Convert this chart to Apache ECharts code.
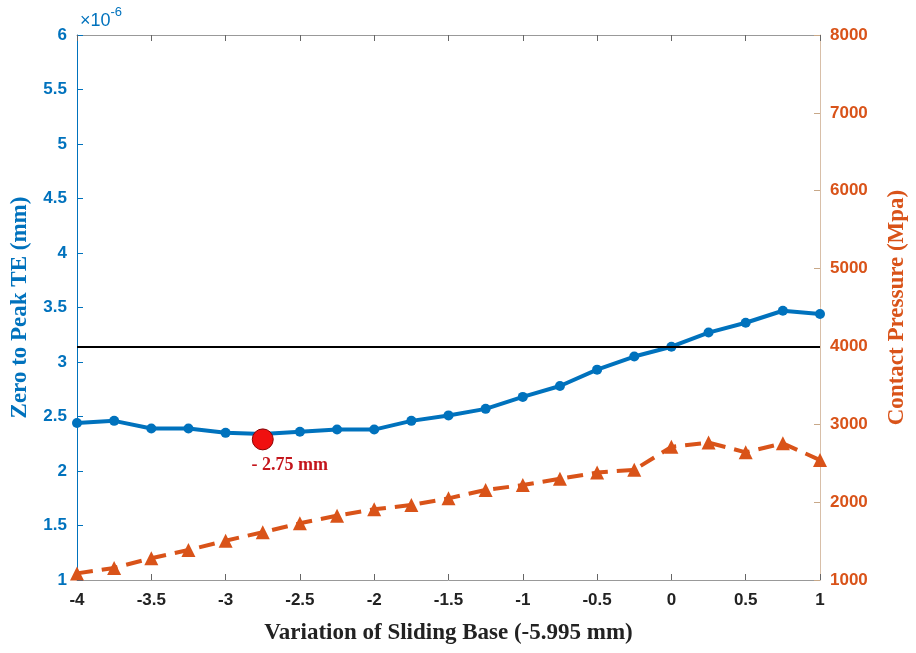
<!DOCTYPE html>
<html><head><meta charset="utf-8">
<script src="https://cdn.jsdelivr.net/npm/echarts@6/dist/echarts.min.js"></script>
<style>html,body{margin:0;padding:0;background:#fff}#c{width:916px;height:653px}</style>
</head><body><div id="c"></div>
<script>
const xValues = [-4,-3.75,-3.5,-3.25,-3,-2.75,-2.5,-2.25,-2,-1.75,-1.5,-1.25,-1,-0.75,-0.5,-0.25,0,0.25,0.5,0.75,1];
const teValues = [2.44,2.46,2.39,2.39,2.35,2.34,2.36,2.38,2.38,2.46,2.51,2.57,2.68,2.78,2.93,3.05,3.14,3.27,3.36,3.47,3.44]; // x1e-6 mm
const pressureValues = [1085,1155,1280,1385,1505,1613,1728,1826,1908,1963,2049,2156,2220,2300,2380,2415,2710,2765,2640,2755,2540];
const highlightPoint = [-2.75, 2.29];
const highlightLabel = '- 2.75 mm';
const referencePressure = 4000;

const BLUE = '#0072BD', ORANGE = '#D95319';
const chart = echarts.init(document.getElementById('c'));
const tickFont = {fontFamily:'Liberation Sans', fontWeight:'bold', fontSize:17};
chart.setOption({
  animation:false,
  grid:{left:77, right:96, top:35, bottom:73, containLabel:false, outerBoundsMode:'none'},
  graphic:[{type:'text', left:80, top:6, style:{
    text:'{a|×10}{b|-6}', rich:{a:{fontFamily:'Liberation Sans', fontSize:18, fill:BLUE, padding:[6,0,0,0]}, b:{fontFamily:'Liberation Sans', fontSize:13, fill:BLUE, verticalAlign:'top', padding:[0,0,8,0]}}
  }}],
  xAxis:[{
    type:'value', min:-4, max:1, interval:0.5,
    name:'Variation of Sliding Base (-5.995 mm)', nameLocation:'middle', nameGap:42,
    nameTextStyle:{fontFamily:'Liberation Serif', fontWeight:'bold', fontSize:23, color:'#222'},
    axisLine:{onZero:false, lineStyle:{color:'#999'}}, axisTick:{inside:true, length:6, lineStyle:{color:'#666'}},
    axisLabel:Object.assign({color:'#222', margin:12}, tickFont), splitLine:{show:false}
  },{
    type:'value', min:-4, max:1, interval:0.5, position:'top',
    axisLine:{show:true, onZero:false, lineStyle:{color:'#999'}}, axisTick:{inside:true, length:6, lineStyle:{color:'#666'}},
    axisLabel:{show:false}, splitLine:{show:false}
  }],
  yAxis:[{
    type:'value', min:1, max:6, interval:0.5, position:'left',
    name:'Zero to Peak TE (mm)', nameLocation:'middle', nameGap:45,
    nameTextStyle:{fontFamily:'Liberation Serif', fontWeight:'bold', fontSize:23, color:BLUE},
    axisLine:{show:true, onZero:false, lineStyle:{color:BLUE}}, axisTick:{show:true, inside:true, length:6, lineStyle:{color:BLUE}},
    axisLabel:Object.assign({color:BLUE, margin:10}, tickFont), splitLine:{show:false}
  },{
    type:'value', min:1000, max:8000, interval:1000, position:'right',
    name:'Contact Pressure (Mpa)', nameLocation:'middle', nameGap:66, nameRotate:90,
    nameTextStyle:{fontFamily:'Liberation Serif', fontWeight:'bold', fontSize:23, color:ORANGE},
    axisLine:{show:true, onZero:false, lineStyle:{color:'#D8BFA8'}}, axisTick:{show:true, inside:true, length:6, lineStyle:{color:'#C8A888'}},
    axisLabel:Object.assign({color:ORANGE, margin:10, formatter:v=>String(v)}, tickFont), splitLine:{show:false}
  }],
  series:[{
    type:'line', yAxisIndex:1, data:xValues.map((x,i)=>[x,pressureValues[i]]),
    lineStyle:{color:ORANGE, width:4, type:[16,9]}, itemStyle:{color:ORANGE},
    symbol:'triangle', symbolSize:14, z:2,
    markLine:{silent:true, symbol:'none', label:{show:false}, lineStyle:{color:'#000', width:2, type:'solid'}, data:[{yAxis:referencePressure}]}
  },{
    type:'line', yAxisIndex:0, data:xValues.map((x,i)=>[x,teValues[i]]),
    lineStyle:{color:BLUE, width:4}, itemStyle:{color:BLUE},
    symbol:'circle', symbolSize:10, z:3
  },{
    type:'scatter', yAxisIndex:0, data:[highlightPoint], symbolSize:21,
    itemStyle:{color:'#F01010', borderColor:'#8B0000', borderWidth:1, opacity:1}, z:5,
    label:{show:true, position:'bottom', distance:6, offset:[27,0], formatter:highlightLabel,
      fontFamily:'Liberation Serif', fontWeight:'bold', fontSize:18, color:'#C4161C'}
  }]
});
</script></body></html>
